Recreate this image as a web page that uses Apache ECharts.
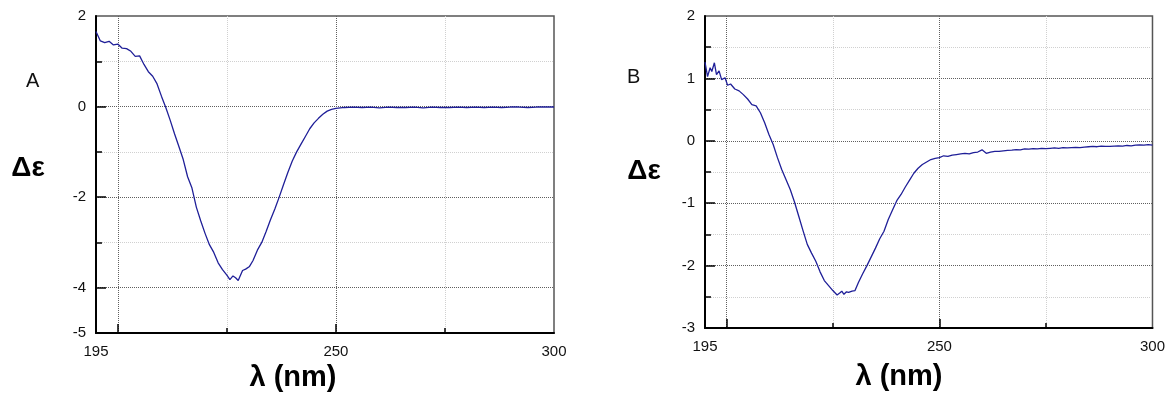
<!DOCTYPE html>
<html>
<head>
<meta charset="utf-8">
<script src="https://cdn.jsdelivr.net/npm/echarts@6/dist/echarts.min.js"></script>
<style>
html,body{margin:0;padding:0;background:#fff;}
#chart{width:1168px;height:396px;}
</style>
</head>
<body>
<div id="chart"></div>
<script>
// ---------- Panel A data ----------
var lambdaA = [195,196,197,198,199,200,201,202,203,204,205,206,207,208,209,210,211,212,213,214,215,216,217,218,219,220,221,222,223,224,225,225.7,226.4,227,227.6,228.6,229.3,230.2,231,232,233,234,235,236,237,238,239,240,241,242,243,244,245,246,247,248,249,250,251,252,254,256,258,260,262,264,266,268,270,272,274,276,278,280,282,284,286,288,290,292,294,296,298,300];
var deltaA = [1.66,1.45,1.41,1.44,1.36,1.38,1.29,1.28,1.22,1.11,1.12,0.93,0.77,0.67,0.50,0.23,-0.02,-0.30,-0.60,-0.88,-1.17,-1.55,-1.80,-2.22,-2.52,-2.80,-3.05,-3.22,-3.45,-3.60,-3.72,-3.82,-3.74,-3.78,-3.84,-3.62,-3.59,-3.53,-3.40,-3.17,-3.00,-2.76,-2.50,-2.26,-2.00,-1.72,-1.45,-1.20,-1.00,-0.83,-0.66,-0.49,-0.36,-0.26,-0.17,-0.10,-0.06,-0.04,-0.03,-0.02,-0.01,-0.02,-0.01,-0.03,-0.01,-0.02,-0.02,-0.01,-0.03,-0.01,-0.02,-0.02,-0.01,-0.02,-0.01,-0.02,-0.01,-0.02,-0.01,-0.01,-0.02,-0.01,-0.01,-0.01];

// ---------- Panel B data ----------
var lambdaB = [195,195.6,196.2,196.6,197.2,197.7,198.3,198.9,199.7,200.3,201,202,203,204,205,206,207,208,209,210,211,212,213,214,215,216,217,218,219,220,221,222,223,224,225,226,226.6,227.1,227.6,228.2,228.7,229.5,230.2,231,232,233,234,235,236,237,238,239,240,241,242,243,244,245,246,247,248,249,250,251,252,253,254,255,256,257,258,259,260,261,262,263,264,265,266,267,268,269,270,271,272,273,274,275,276,277,278,279,280,281,282,283,284,285,286,287,288,289,290,291,292,293,294,295,296,297,298,299,300];
var deltaB = [1.26,1.03,1.17,1.11,1.25,1.06,1.12,0.98,1.01,0.89,0.91,0.83,0.80,0.74,0.67,0.58,0.56,0.45,0.29,0.10,-0.06,-0.27,-0.46,-0.62,-0.78,-0.98,-1.21,-1.44,-1.66,-1.80,-1.93,-2.10,-2.24,-2.32,-2.40,-2.47,-2.44,-2.41,-2.46,-2.42,-2.43,-2.41,-2.40,-2.27,-2.13,-2.00,-1.86,-1.72,-1.57,-1.45,-1.26,-1.11,-0.96,-0.86,-0.74,-0.63,-0.52,-0.44,-0.38,-0.34,-0.30,-0.28,-0.27,-0.24,-0.25,-0.23,-0.22,-0.21,-0.20,-0.21,-0.19,-0.18,-0.145,-0.20,-0.18,-0.17,-0.17,-0.16,-0.155,-0.15,-0.14,-0.145,-0.13,-0.135,-0.125,-0.13,-0.12,-0.125,-0.12,-0.115,-0.12,-0.11,-0.115,-0.11,-0.105,-0.11,-0.10,-0.095,-0.09,-0.095,-0.085,-0.09,-0.09,-0.085,-0.08,-0.085,-0.075,-0.08,-0.07,-0.065,-0.07,-0.06,-0.07];

// ---------- Axis / tick definitions ----------
var xRange = [195, 300];
var xLabels = [195, 250, 300];
var xMajor = [200, 250];
var xMinor = [225, 275];

var yRangeA = [-5, 2];
var yLabelsA = [2, 0, -2, -4, -5];
var yMajorA = [0, -2, -4];
var yMinorA = [1, -1, -3];

var yRangeB = [-3, 2];
var yLabelsB = [2, 1, 0, -1, -2, -3];
var yMajorB = [1, 0, -1, -2];
var yMinorB = [1.5, 0.5, -0.5, -1.5, -2.5];

function pairs(xs, ys) { return xs.map(function (x, i) { return [x, ys[i]]; }); }

var FONT = '"Liberation Sans", Arial, Helvetica, sans-serif';
var darkGrid = { color: '#5f5f5f', width: 1, type: [1, 1] };
var lightGrid = { color: '#d0d0d0', width: 1, type: [1, 1] };

function xAxes(grid) {
  return [
    { type: 'value', gridIndex: grid, min: xRange[0], max: xRange[1], position: 'bottom',
      axisLine: { show: true, onZero: false, lineStyle: { color: '#000', width: 2 } },
      axisLabel: { customValues: xLabels, color: '#111', fontSize: 15, fontFamily: FONT, margin: 11 },
      axisTick: { customValues: xMajor, inside: true, length: 9, lineStyle: { color: '#000', width: 1.5 } },
      splitLine: { show: true, lineStyle: darkGrid } },
    { type: 'value', gridIndex: grid, min: xRange[0], max: xRange[1], position: 'bottom',
      axisLine: { show: false, onZero: false },
      axisLabel: { show: false, customValues: xMinor },
      axisTick: { customValues: xMinor, inside: true, length: 5, lineStyle: { color: '#000', width: 1.5 } },
      splitLine: { show: true, lineStyle: lightGrid } }
  ];
}
function yAxes(grid, range, labels, major, minor) {
  return [
    { type: 'value', gridIndex: grid, min: range[0], max: range[1], position: 'left',
      axisLine: { show: true, onZero: false, lineStyle: { color: '#000', width: 2 } },
      axisLabel: { customValues: labels, color: '#111', fontSize: 15, fontFamily: FONT, margin: 10 },
      axisTick: { customValues: major, inside: true, length: 10, lineStyle: { color: '#000', width: 1.5 } },
      splitLine: { show: true, lineStyle: darkGrid } },
    { type: 'value', gridIndex: grid, min: range[0], max: range[1], position: 'left',
      axisLine: { show: false, onZero: false },
      axisLabel: { show: false, customValues: minor },
      axisTick: { customValues: minor, inside: true, length: 6, lineStyle: { color: '#000', width: 1.5 } },
      splitLine: { show: true, lineStyle: lightGrid } }
  ];
}

var chart = echarts.init(document.getElementById('chart'), null, { renderer: 'canvas' });
var lineColor = '#1f1f98';
chart.setOption({
  animation: false,
  backgroundColor: '#fff',
  grid: [
    { left: 96, top: 16, width: 458, height: 317, show: true, borderColor: '#555', borderWidth: 1.5, backgroundColor: 'transparent' },
    { left: 705, top: 16, width: 452, height: 312, show: true, borderColor: '#555', borderWidth: 1.5, backgroundColor: 'transparent' }
  ],
  xAxis: xAxes(0).concat(xAxes(1)),
  yAxis: yAxes(0, yRangeA, yLabelsA, yMajorA, yMinorA).concat(yAxes(1, yRangeB, yLabelsB, yMajorB, yMinorB)),
  series: [
    { type: 'line', xAxisIndex: 0, yAxisIndex: 0, data: pairs(lambdaA, deltaA), showSymbol: false, smooth: false,
      lineStyle: { color: lineColor, width: 1.3 }, z: 5 },
    { type: 'line', xAxisIndex: 2, yAxisIndex: 2, data: pairs(lambdaB, deltaB), showSymbol: false, smooth: false,
      lineStyle: { color: lineColor, width: 1.3 }, z: 5 }
  ],
  graphic: [
    { type: 'text', left: 26, top: 71, style: { text: 'A', font: '20px ' + FONT, fill: '#111' } },
    { type: 'text', left: 627, top: 67, style: { text: 'B', font: '20px ' + FONT, fill: '#111' } },
    { type: 'text', x: 28, y: 168, style: { text: 'Δε', font: 'bold 28px ' + FONT, fill: '#000', align: 'center', verticalAlign: 'middle' } },
    { type: 'text', x: 644, y: 171, style: { text: 'Δε', font: 'bold 28px ' + FONT, fill: '#000', align: 'center', verticalAlign: 'middle' } },
    { type: 'text', x: 293, y: 378, style: { text: 'λ (nm)', font: 'bold 29px ' + FONT, fill: '#000', align: 'center', verticalAlign: 'middle' } },
    { type: 'text', x: 899, y: 377, style: { text: 'λ (nm)', font: 'bold 29px ' + FONT, fill: '#000', align: 'center', verticalAlign: 'middle' } }
  ]
});
</script>
</body>
</html>
